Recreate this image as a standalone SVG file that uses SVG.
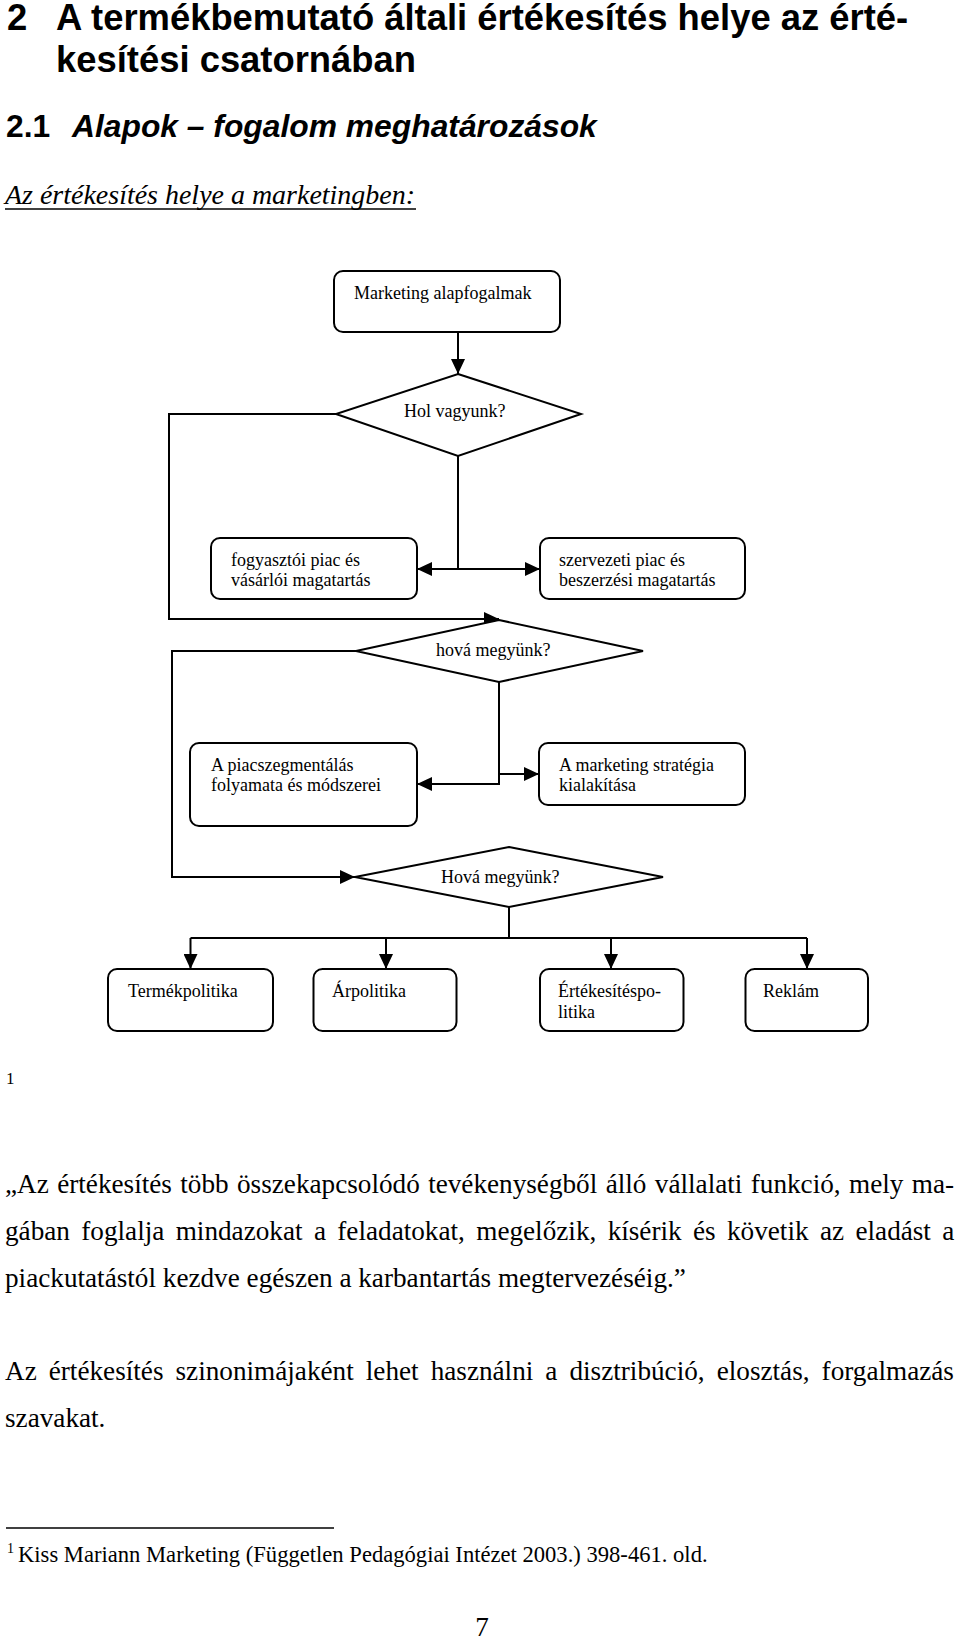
<svg xmlns="http://www.w3.org/2000/svg" width="960" height="1644" viewBox="0 0 960 1644">
<style>
.h1{font-family:"Liberation Sans",Arial,sans-serif;font-weight:bold;font-size:36.4px;fill:#000}
.h2{font-family:"Liberation Sans",Arial,sans-serif;font-weight:bold;font-size:31.8px;fill:#000}
.it{font-family:"Liberation Serif","Times New Roman",serif;font-style:italic;font-size:28px;fill:#000}
.body{font-family:"Liberation Serif","Times New Roman",serif;font-size:27.2px;fill:#000}
.fn{font-family:"Liberation Serif","Times New Roman",serif;font-size:22.6px;fill:#000}
.sup{font-family:"Liberation Serif","Times New Roman",serif;font-size:14px;fill:#000}
.ref{font-family:"Liberation Serif","Times New Roman",serif;font-size:17px;fill:#000}
.lbl{font-family:"Liberation Serif","Times New Roman",serif;font-size:18px;fill:#000}
.box{fill:#fff;stroke:#000;stroke-width:2}
.dia{fill:#fff;stroke:#000;stroke-width:2;stroke-linejoin:miter}
.con{fill:none;stroke:#000;stroke-width:2}
</style>
<defs>
<marker id="ah" markerUnits="userSpaceOnUse" markerWidth="15" markerHeight="14" refX="15" refY="7" orient="auto" viewBox="0 0 15 14">
<path d="M0,0 L15,7 L0,14 z" fill="#000"/>
</marker>
</defs>
<rect width="960" height="1644" fill="#fff"/>

<g id="headings">
<text class="h1" x="7" y="30">2</text>
<text class="h1" x="56" y="30">A termékbemutató általi értékesítés helye az érté-</text>
<text class="h1" x="56" y="72">kesítési csatornában</text>
<text class="h2" x="6" y="137">2.1</text>
<text class="h2" x="72" y="137" font-style="italic">Alapok – fogalom meghatározások</text>
<text class="it" x="5" y="204" textLength="410" lengthAdjust="spacingAndGlyphs">Az értékesítés helye a marketingben:</text>
<line x1="5" y1="209" x2="416" y2="209" stroke="#000" stroke-width="1.5"/>
</g>

<g id="connectors">
<path class="con" d="M458,332 L458,374" marker-end="url(#ah)"/>
<path class="con" d="M458,456 L458,569"/>
<path class="con" d="M458,569 L417,569" marker-end="url(#ah)"/>
<path class="con" d="M458,569 L540,569" marker-end="url(#ah)"/>
<path class="con" d="M336,414 L169,414 L169,619 L499,619" marker-end="url(#ah)"/>
<path class="con" d="M356,651 L172,651 L172,877 L355,877" marker-end="url(#ah)"/>
<path class="con" d="M499,682 L499,784 L417,784" marker-end="url(#ah)"/>
<path class="con" d="M499,774 L539,774" marker-end="url(#ah)"/>
<path class="con" d="M509,907 L509,938"/>
<path class="con" d="M190.5,938 L807,938"/>
<path class="con" d="M190.5,938 L190.5,969" marker-end="url(#ah)"/>
<path class="con" d="M386,938 L386,969" marker-end="url(#ah)"/>
<path class="con" d="M611,938 L611,969" marker-end="url(#ah)"/>
<path class="con" d="M807,938 L807,969" marker-end="url(#ah)"/>
</g>

<g id="n-marketing">
<rect class="box" x="334" y="271" width="226" height="61" rx="9"/>
<text class="lbl" x="354" y="299">Marketing alapfogalmak</text>
</g>
<g id="d-hol">
<polygon class="dia" points="458,374 581,414 458,456 336,414"/>
<text class="lbl" x="404" y="417">Hol vagyunk?</text>
</g>
<g id="n-fogyasztoi">
<rect class="box" x="211" y="538" width="206" height="61" rx="9"/>
<text class="lbl" x="231" y="566">fogyasztói piac és</text>
<text class="lbl" x="231" y="586">vásárlói magatartás</text>
</g>
<g id="n-szervezeti">
<rect class="box" x="540" y="538" width="205" height="61" rx="9"/>
<text class="lbl" x="559" y="566">szervezeti piac és</text>
<text class="lbl" x="559" y="586">beszerzési magatartás</text>
</g>
<g id="d-hova1">
<polygon class="dia" points="499,620 643,651 499,682 356,651"/>
<text class="lbl" x="436" y="656">hová megyünk?</text>
</g>
<g id="n-piacszeg">
<rect class="box" x="190" y="743" width="227" height="83" rx="9"/>
<text class="lbl" x="211" y="771">A piacszegmentálás</text>
<text class="lbl" x="211" y="791">folyamata és módszerei</text>
</g>
<g id="n-strategia">
<rect class="box" x="539" y="743" width="206" height="62" rx="9"/>
<text class="lbl" x="559" y="771">A marketing stratégia</text>
<text class="lbl" x="559" y="791">kialakítása</text>
</g>
<g id="d-hova2">
<polygon class="dia" points="509,847 663,877 509,907 355,877"/>
<text class="lbl" x="441" y="883">Hová megyünk?</text>
</g>
<g id="n-termek">
<rect class="box" x="108" y="969" width="165" height="62" rx="9"/>
<text class="lbl" x="128" y="997">Termékpolitika</text>
</g>
<g id="n-ar">
<rect class="box" x="313.5" y="969" width="143" height="62" rx="9"/>
<text class="lbl" x="332" y="997">Árpolitika</text>
</g>
<g id="n-ertekesites">
<rect class="box" x="540" y="969" width="143.5" height="62" rx="9"/>
<text class="lbl" x="558" y="997">Értékesítéspo-</text>
<text class="lbl" x="558" y="1018">litika</text>
</g>
<g id="n-reklam">
<rect class="box" x="745.5" y="969" width="122.5" height="62" rx="9"/>
<text class="lbl" x="763" y="997">Reklám</text>
</g>

<g id="text-body">
<text class="ref" x="6" y="1084">1</text>
<text class="body" x="5" y="1193" word-spacing="1.6">„Az értékesítés több összekapcsolódó tevékenységből álló vállalati funkció, mely ma-</text>
<text class="body" x="5" y="1240" word-spacing="4.57">gában foglalja mindazokat a feladatokat, megelőzik, kísérik és követik az eladást a</text>
<text class="body" x="5" y="1287">piackutatástól kezdve egészen a karbantartás megtervezéséig.”</text>
<text class="body" x="5" y="1380" word-spacing="5.25">Az értékesítés szinonimájaként lehet használni a disztribúció, elosztás, forgalmazás</text>
<text class="body" x="5" y="1427">szavakat.</text>
<line x1="6" y1="1528" x2="334" y2="1528" stroke="#000" stroke-width="1.5"/>
<text class="sup" x="7" y="1553">1</text>
<text class="fn" x="18" y="1562">Kiss Mariann Marketing (Független Pedagógiai Intézet 2003.) 398-461. old.</text>
<text class="body" x="482" y="1636" text-anchor="middle">7</text>
</g>
</svg>
